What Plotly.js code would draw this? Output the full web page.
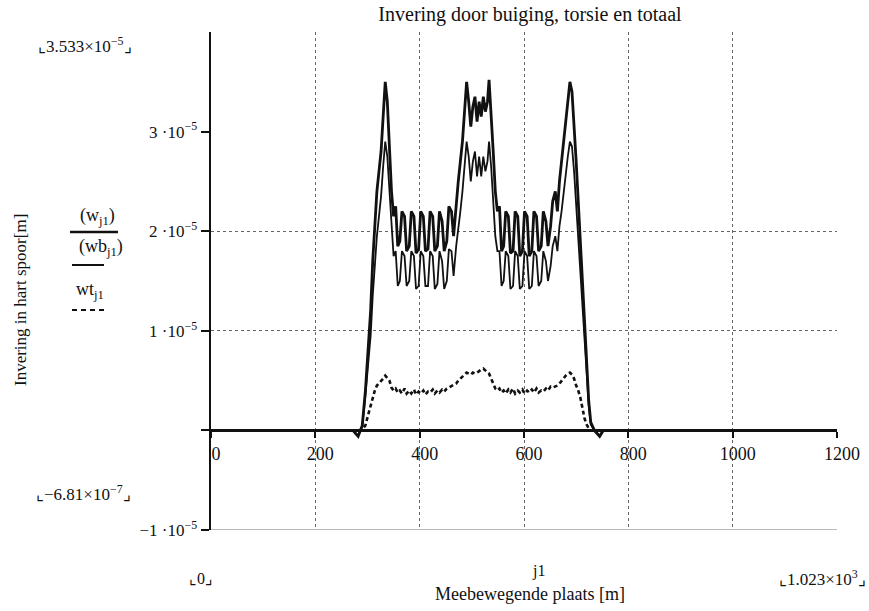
<!DOCTYPE html>
<html>
<head>
<meta charset="utf-8">
<script src="https://cdn.plot.ly/plotly-3.0.1.min.js"></script>
<style>html,body{margin:0;padding:0;background:#fff;}#chart{width:869px;height:611px;}</style>
</head>
<body>
<div id="chart"></div>
<script>
// Position j1 along the track [m]
const position = [
  0,100,200,260,272,282,290,
  296,301,306,310,314,318,322,326,330,334,338,342,346,350,
  354,358,362,366,371,375,380,384,389,393,398,402,407,411,416,420,425,429,434,438,443,447,452,456,461,465,
  470,474,478,482,486,490,494,498,502,506,510,514,518,522,526,530,533,537,541,545,549,
  553,557,561,565,570,574,579,583,588,592,597,601,606,610,615,619,624,628,633,637,642,646,651,
  655,660,664,668,672,676,680,684,688,692,696,700,704,708,712,716,720,724,728,
  735,745,752,800,900,1023
];
// Values in units of 1e-5 m
// total deflection w
const wTotal = [
  0,0,0,0,0,-0.06,0.05,
  0.4,0.8,1.2,1.7,2.1,2.4,2.6,2.8,3.15,3.5,3.3,2.9,2.4,2.15,
  2.25,1.85,1.9,2.2,2.15,1.8,1.85,2.2,2.15,1.78,1.82,2.2,2.15,1.8,1.82,2.2,2.15,1.8,1.85,2.2,2.1,1.8,1.9,2.25,2.2,1.95,
  2.3,2.5,2.7,2.9,3.2,3.5,3.3,3.05,3.25,3.35,3.1,3.3,3.15,3.35,3.2,3.3,3.52,3.2,2.8,2.4,2.2,
  2.25,1.8,1.85,2.2,2.15,1.78,1.8,2.2,2.15,1.75,1.8,2.2,2.15,1.75,1.8,2.2,2.15,1.8,1.85,2.2,2.1,1.85,2.05,
  2.3,2.4,2.2,2.5,2.7,2.9,3.1,3.3,3.5,3.4,3.1,2.7,2.3,1.9,1.5,1.0,0.6,0.3,0.08,
  0,-0.06,0,0,0,0
];
// bending deflection wb
const wBending = [
  0,0,0,0,0,-0.05,0.04,
  0.35,0.65,0.95,1.35,1.7,1.95,2.15,2.35,2.65,2.9,2.75,2.4,2.0,1.75,
  1.8,1.45,1.5,1.8,1.75,1.45,1.5,1.8,1.75,1.42,1.45,1.8,1.75,1.45,1.45,1.8,1.75,1.42,1.47,1.8,1.7,1.42,1.5,1.82,1.8,1.55,
  1.85,2.0,2.2,2.4,2.65,2.9,2.75,2.5,2.7,2.8,2.55,2.75,2.55,2.75,2.6,2.7,2.9,2.65,2.3,1.95,1.8,
  1.8,1.45,1.5,1.8,1.75,1.42,1.45,1.8,1.75,1.42,1.45,1.8,1.75,1.42,1.45,1.8,1.75,1.45,1.5,1.8,1.7,1.5,1.65,
  1.85,1.95,1.8,2.05,2.2,2.4,2.6,2.75,2.9,2.85,2.6,2.25,1.9,1.55,1.25,0.85,0.5,0.25,0.06,
  0,-0.05,0,0,0,0
];
// torsion deflection wt
const wTorsion = [
  0,0,0,0,0,0,0.01,
  0.05,0.15,0.25,0.35,0.4,0.45,0.47,0.5,0.52,0.55,0.53,0.5,0.43,0.4,
  0.42,0.38,0.4,0.37,0.42,0.37,0.4,0.37,0.41,0.36,0.39,0.37,0.4,0.36,0.39,0.38,0.41,0.37,0.4,0.38,0.41,0.39,0.42,0.43,0.44,0.45,
  0.47,0.5,0.52,0.55,0.57,0.58,0.57,0.56,0.58,0.57,0.58,0.6,0.61,0.62,0.6,0.58,0.57,0.52,0.46,0.42,0.4,
  0.42,0.38,0.4,0.37,0.41,0.38,0.42,0.37,0.4,0.38,0.41,0.37,0.4,0.38,0.41,0.38,0.42,0.38,0.4,0.39,0.42,0.4,0.44,
  0.43,0.44,0.45,0.47,0.5,0.52,0.55,0.57,0.58,0.56,0.52,0.45,0.4,0.33,0.22,0.12,0.06,0.02,0,
  0,0,0,0,0,0
];
const xTicks = [0,200,400,600,800,1000,1200];
const yTickVals = [-1,0,1,2,3];
const yTickText = ['\u22121 \u00b710<sup>\u22125</sup>','','1 \u00b710<sup>\u22125</sup>','2 \u00b710<sup>\u22125</sup>','3 \u00b710<sup>\u22125</sup>'];
const yGridVals = [-1,1,2];

const serif = 'Liberation Serif, Times New Roman, serif';

const traces = [
  {x:[0], y:[0], mode:'markers', marker:{opacity:0}, xaxis:'x', yaxis:'y2', hoverinfo:'skip', showlegend:false},
  {x: position, y: wBending, mode:'lines', line:{color:'#111', width:1.8}, xaxis:'x', yaxis:'y', showlegend:false},
  {x: position, y: wTorsion, mode:'lines', line:{color:'#111', width:2.6, dash:'4px,3px'}, xaxis:'x', yaxis:'y', showlegend:false},
  {x: position, y: wTotal, mode:'lines', line:{color:'#111', width:2.8}, xaxis:'x', yaxis:'y', showlegend:false}
];

function px2x(px){ return (px-211)/626; }
function py2y(py){ return (530-py)/498; }

const ann = [];
function addText(txt, px, py, size, extra){
  ann.push(Object.assign({text: txt, x: px2x(px), y: py2y(py), xref:'paper', yref:'paper', showarrow:false,
    xanchor:'center', yanchor:'middle', font:{family: serif, size: size, color:'#111'}}, extra||{}));
}
addText('Invering in hart spoor[m]', 20, 300, 17, {textangle:-90});
addText('\u231e3.533\u00d710<sup>\u22125</sup>\u231f', 85, 45, 17);
addText('\u231e\u22126.81\u00d710<sup>\u22127</sup>\u231f', 83, 493, 17);
addText('\u231e0\u231f', 201, 578, 16);
addText('j1', 538, 571, 16);
addText('Meebewegende plaats [m]', 530, 594, 18);
addText('\u231e1.023\u00d710<sup>3</sup>\u231f', 822, 578, 17);
addText('(w<sub>j1</sub>)', 97, 216, 18);
addText('(wb<sub>j1</sub>)', 101, 247, 18);
addText('wt<sub>j1</sub>', 90, 290, 18);

const shapes = [
  {type:'line', xref:'paper', yref:'paper', x0:px2x(70), x1:px2x(118), y0:py2y(232), y1:py2y(232), line:{color:'#111', width:2.5}},
  {type:'line', xref:'paper', yref:'paper', x0:px2x(72), x1:px2x(104), y0:py2y(265), y1:py2y(265), line:{color:'#111', width:2}},
  {type:'line', xref:'paper', yref:'paper', x0:px2x(72), x1:px2x(108), y0:py2y(310), y1:py2y(310), line:{color:'#111', width:2, dash:'5px,4px'}},
  {type:'line', xref:'paper', yref:'y', x0:0, x1:1, y0:-1, y1:-1, line:{color:'#777', width:1.2}}
];

const layout = {
  width: 869, height: 611,
  margin: {l:211, r:32, t:32, b:81},
  paper_bgcolor:'#fff', plot_bgcolor:'#fff',
  showlegend:false,
  title: {text:'Invering door buiging, torsie en totaal', x: 530/869, xref:'container', xanchor:'center',
          y: 1-14/611, yref:'container', yanchor:'middle', font:{family: serif, size:20, color:'#111'}},
  xaxis: {
    range:[0,1200], anchor:'free', position:0.2,
    tickvals: xTicks, ticktext: xTicks.map(String), ticklabelshift:5,
    showline:true, linecolor:'#111', linewidth:2.5,
    ticks:'outside', ticklen:6, tickwidth:2, tickcolor:'#111',
    showgrid:true, gridcolor:'#666', gridwidth:1, griddash:'dot',
    zeroline:false,
    tickfont:{family: serif, size:18, color:'#111'}
  },
  yaxis: {
    range:[-1,4], tickvals: yTickVals, ticktext: yTickText,
    showline:true, linecolor:'#111', linewidth:2.5,
    ticks:'outside', ticklen:8, tickwidth:2, tickcolor:'#111',
    showgrid:false, zeroline:false,
    tickfont:{family: serif, size:17, color:'#111'}
  },
  yaxis2: {
    range:[-1,4], overlaying:'y', side:'right', tickvals: yGridVals,
    showticklabels:false, ticks:'', showline:false, zeroline:false,
    showgrid:true, gridcolor:'#666', gridwidth:1, griddash:'dot'
  },
  annotations: ann,
  shapes: shapes
};

Plotly.newPlot('chart', traces, layout, {staticPlot:true});
</script>
</body>
</html>
